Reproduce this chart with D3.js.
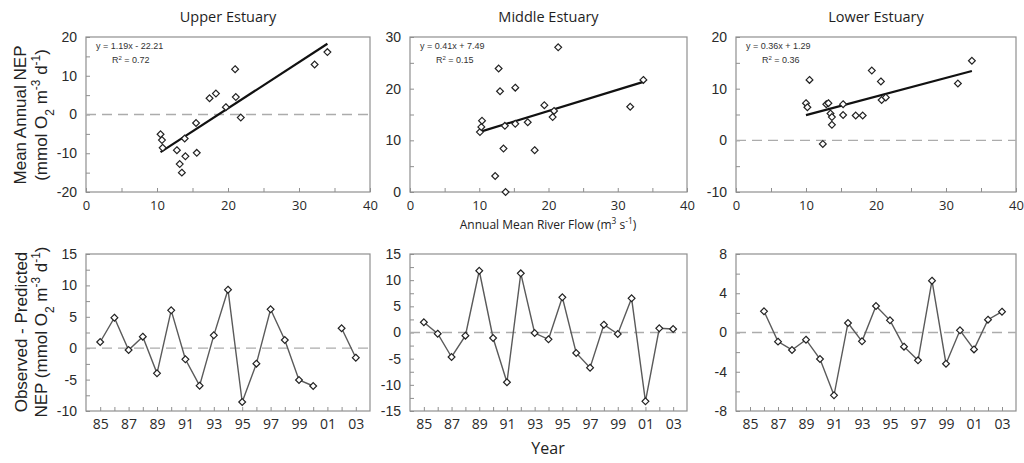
<!DOCTYPE html>
<html>
<head>
<meta charset="utf-8">
<script src="https://cdn.jsdelivr.net/npm/d3@7"></script>
<style>
  body { margin: 0; background: #fff; }
  svg { display: block; }
  .tick text { fill: #2a2a2a; }
</style>
</head>
<body>
<svg id="chart" width="1024" height="463"></svg>
<script>
// Estuary names (panel titles)
const estuaries = ["Upper Estuary", "Middle Estuary", "Lower Estuary"];

// Annual mean river flow (m3 s-1) for each estuary's yearly NEP points
const flowUpper  = [10.5, 10.7, 10.8, 12.8, 13.2, 13.5, 13.9, 14.0, 15.5, 15.6, 17.4, 18.3, 19.7, 21.0, 21.1, 21.8, 32.2, 34.0];
const nepUpper   = [-5.1, -6.6, -8.6, -9.2, -12.8, -15.0, -6.2, -10.8, -2.2, -9.9, 4.2, 5.4, 1.9, 11.7, 4.5, -0.8, 12.9, 16.1];
const flowMiddle = [10.1, 10.3, 10.4, 12.3, 12.8, 13.0, 13.5, 13.7, 13.8, 15.2, 15.2, 17.0, 18.0, 19.4, 20.6, 20.8, 21.4, 31.8, 33.7];
const nepMiddle  = [11.6, 12.6, 13.8, 3.1, 23.9, 19.5, 8.4, 12.8, 0.0, 13.2, 20.2, 13.5, 8.1, 16.8, 14.5, 15.7, 28.0, 16.5, 21.7];
const flowLower  = [10.0, 10.2, 10.5, 12.4, 12.9, 13.2, 13.5, 13.7, 13.7, 15.3, 15.3, 17.1, 18.1, 19.4, 20.7, 20.8, 21.4, 31.7, 33.7];
const nepLower   = [7.2, 6.4, 11.7, -0.7, 7.0, 7.2, 5.2, 4.5, 3.0, 4.9, 7.0, 4.8, 4.8, 13.5, 11.4, 7.8, 8.3, 11.0, 15.4];

// Regression fits: slope, intercept, R2
const slopes     = [1.19, 0.41, 0.36];
const intercepts = [-22.21, 7.49, 1.29];
const r2Values   = [0.72, 0.15, 0.36];

// Residuals (observed - predicted NEP) by year; null = no data
const years       = [85, 86, 87, 88, 89, 90, 91, 92, 93, 94, 95, 96, 97, 98, 99, 100, 101, 102, 103];
const residUpper  = [0.99, 4.86, -0.29, 1.84, -4.0, 6.03, -1.77, -5.97, 2.05, 9.32, -8.57, -2.46, 6.19, 1.3, -5.06, -6.02, null, 3.17, -1.51];
const residMiddle = [1.95, -0.22, -4.68, -0.6, 11.8, -1.05, -9.5, 11.3, -0.1, -1.3, 6.72, -3.92, -6.72, 1.5, -0.29, 6.53, -13.15, 0.8, 0.67];
const residLower  = [null, 2.16, -0.93, -1.78, -0.73, -2.7, -6.4, 0.97, -0.9, 2.7, 1.24, -1.44, -2.84, 5.28, -3.18, 0.22, -1.72, 1.31, 2.12];

// Axis ranges and tick labels
const flowTicks    = [0, 10, 20, 30, 40];
const topYDomains  = [[-20, 20], [0, 30], [-10, 20]];
const topYTicks    = [[-20, -10, 0, 10, 20], [0, 10, 20, 30], [-10, 0, 10, 20]];
const botYDomains  = [[-10, 15], [-15, 15], [-8, 8]];
const botYTicks    = [[-10, -5, 0, 5, 10, 15], [-15, -10, -5, 0, 5, 10, 15], [-8, -4, 0, 4, 8]];
const botYMinor    = [2.5, 2.5, 2];
const yearLabels   = ["85", "87", "89", "91", "93", "95", "97", "99", "01", "03"];

const flows = [flowUpper, flowMiddle, flowLower];
const neps = [nepUpper, nepMiddle, nepLower];
const resids = [residUpper, residMiddle, residLower];

const svg = d3.select("#chart");
const cols = [{x0: 86, x1: 370}, {x0: 410, x1: 687}, {x0: 736, x1: 1016}];
const topRow = {y0: 37, y1: 192};
const botRow = {y0: 254, y1: 411};

const frameColor = "#8f8f8f";
const tickFont = "'Open Sans', sans-serif";
const numFont = "'Liberation Sans', Arial, sans-serif";

const diamond = r => `M0,${-r}L${r},0L0,${r}L${-r},0Z`;

function range(a, b, step) {
  const out = [];
  for (let v = a; v <= b + 1e-9; v += step) out.push(+v.toFixed(4));
  return out;
}

function styleAxis(g, font, size) {
  g.select(".domain").remove();
  g.selectAll(".tick line").attr("stroke", frameColor).attr("stroke-width", 1);
  g.selectAll(".tick text").attr("font-family", font).attr("font-size", size);
}

cols.forEach((c, i) => {
  // ---------- top row: NEP vs river flow ----------
  const x = d3.scaleLinear().domain([0, 40]).range([c.x0, c.x1]);
  const y = d3.scaleLinear().domain(topYDomains[i]).range([topRow.y1, topRow.y0]);
  const g = svg.append("g");

  g.append("rect").attr("x", c.x0).attr("y", topRow.y0)
    .attr("width", c.x1 - c.x0).attr("height", topRow.y1 - topRow.y0)
    .attr("fill", "none").attr("stroke", frameColor).attr("stroke-width", 1.2);

  const [ylo, yhi] = topYDomains[i];
  const yAxis = d3.axisLeft(y).tickValues(range(ylo, yhi, 5)).tickSize(-4).tickPadding(9)
    .tickFormat(v => topYTicks[i].includes(v) ? v : "");
  g.append("g").attr("transform", `translate(${c.x0},0)`).call(yAxis)
    .call(s => styleAxis(s, numFont, 14));

  const xAxis = d3.axisBottom(x).tickValues(range(0, 40, 5)).tickSize(-4).tickPadding(9)
    .tickFormat(v => flowTicks.includes(v) ? v : "");
  g.append("g").attr("transform", `translate(0,${topRow.y1})`).call(xAxis)
    .call(s => styleAxis(s, tickFont, 13));

  if (ylo < 0) {
    g.append("line").attr("x1", c.x0).attr("x2", c.x1)
      .attr("y1", y(0)).attr("y2", y(0))
      .attr("stroke", "#acacac").attr("stroke-width", 1.3).attr("stroke-dasharray", "10,6");
  }

  const fx = flows[i];
  const xmin = d3.min(fx), xmax = d3.max(fx);
  g.append("line")
    .attr("x1", x(xmin)).attr("y1", y(slopes[i] * xmin + intercepts[i]))
    .attr("x2", x(xmax)).attr("y2", y(slopes[i] * xmax + intercepts[i]))
    .attr("stroke", "#111").attr("stroke-width", 2.2);

  g.selectAll("path.pt").data(fx.map((f, k) => [f, neps[i][k]])).enter()
    .append("path").attr("class", "pt")
    .attr("transform", d => `translate(${x(d[0])},${y(d[1])})`)
    .attr("d", diamond(3.4))
    .attr("fill", "#fff").attr("stroke", "#222").attr("stroke-width", 1.2);

  const sign = intercepts[i] < 0 ? "-" : "+";
  const eqText = g.append("text").attr("x", c.x0 + 10).attr("y", topRow.y0 + 12)
    .attr("font-family", numFont).attr("font-size", 9).attr("fill", "#333");
  eqText.text(`y = ${slopes[i].toFixed(2)}x ${sign} ${Math.abs(intercepts[i]).toFixed(2)}`);
  const r2 = g.append("text").attr("x", c.x0 + 26).attr("y", topRow.y0 + 26)
    .attr("font-family", numFont).attr("font-size", 9).attr("fill", "#333");
  r2.append("tspan").text("R");
  r2.append("tspan").attr("baseline-shift", "super").attr("font-size", 6).text("2");
  r2.append("tspan").text(` = ${r2Values[i].toFixed(2)}`);

  svg.append("text").attr("x", (c.x0 + c.x1) / 2).attr("y", 22)
    .attr("text-anchor", "middle").attr("font-family", tickFont).attr("font-size", 14.5)
    .attr("fill", "#1e1e1e").text(estuaries[i]);

  // ---------- bottom row: residuals by year ----------
  const xb = d3.scaleLinear().domain([84, 104]).range([c.x0, c.x1]);
  const yb = d3.scaleLinear().domain(botYDomains[i]).range([botRow.y1, botRow.y0]);
  const gb = svg.append("g");

  gb.append("rect").attr("x", c.x0).attr("y", botRow.y0)
    .attr("width", c.x1 - c.x0).attr("height", botRow.y1 - botRow.y0)
    .attr("fill", "none").attr("stroke", frameColor).attr("stroke-width", 1.2);

  const [blo, bhi] = botYDomains[i];
  const ybAxis = d3.axisLeft(yb).tickValues(range(blo, bhi, botYMinor[i])).tickSize(-4).tickPadding(9)
    .tickFormat(v => botYTicks[i].includes(v) ? v : "");
  gb.append("g").attr("transform", `translate(${c.x0},0)`).call(ybAxis)
    .call(s => styleAxis(s, numFont, 14));

  const xbAxis = d3.axisBottom(xb).tickValues(years).tickSize(-4).tickPadding(8)
    .tickFormat(v => {
      const lab = String(v % 100).padStart(2, "0");
      return yearLabels.includes(lab) ? lab : "";
    });
  gb.append("g").attr("transform", `translate(0,${botRow.y1})`).call(xbAxis)
    .call(s => styleAxis(s, tickFont, 14));

  gb.append("line").attr("x1", c.x0).attr("x2", c.x1)
    .attr("y1", yb(0)).attr("y2", yb(0))
    .attr("stroke", "#acacac").attr("stroke-width", 1.3).attr("stroke-dasharray", "10,6");

  const pts = years.map((yr, k) => [yr, resids[i][k]]);
  const line = d3.line().defined(d => d[1] !== null).x(d => xb(d[0])).y(d => yb(d[1]));
  gb.append("path").datum(pts).attr("d", line)
    .attr("fill", "none").attr("stroke", "#5a5a5a").attr("stroke-width", 1.4);

  gb.selectAll("path.pt").data(pts.filter(d => d[1] !== null)).enter()
    .append("path").attr("class", "pt")
    .attr("transform", d => `translate(${xb(d[0])},${yb(d[1])})`)
    .attr("d", diamond(3.4))
    .attr("fill", "#fff").attr("stroke", "#222").attr("stroke-width", 1.2);
});

// Axis titles
function sub(t, s) { t.append("tspan").attr("baseline-shift", "sub").attr("font-size", "70%").text(s); }
function sup(t, s) { t.append("tspan").attr("baseline-shift", "super").attr("font-size", "70%").text(s); }

function unitsLine(t) {
  t.append("tspan").text("(mmol O");
  sub(t, "2");
  t.append("tspan").text(" m");
  sup(t, "-3");
  t.append("tspan").text(" d");
  sup(t, "-1");
  t.append("tspan").text(")");
}

const yTitleFont = "'Liberation Sans', Arial, sans-serif";
svg.append("text").attr("transform", "translate(26,115) rotate(-90)")
  .attr("text-anchor", "middle").attr("font-family", yTitleFont).attr("font-size", 17)
  .attr("fill", "#222").text("Mean Annual NEP");
unitsLine(svg.append("text").attr("transform", "translate(47,115) rotate(-90)")
  .attr("text-anchor", "middle").attr("font-family", yTitleFont).attr("font-size", 17)
  .attr("fill", "#222"));

svg.append("text").attr("transform", "translate(27,332) rotate(-90)")
  .attr("text-anchor", "middle").attr("font-family", yTitleFont).attr("font-size", 17)
  .attr("fill", "#222").text("Observed - Predicted");
{
  const t = svg.append("text").attr("transform", "translate(47,332) rotate(-90)")
    .attr("text-anchor", "middle").attr("font-family", yTitleFont).attr("font-size", 17)
    .attr("fill", "#222");
  t.append("tspan").text("NEP ");
  unitsLine(t);
}

{
  const t = svg.append("text").attr("x", 548).attr("y", 229)
    .attr("text-anchor", "middle").attr("font-family", tickFont).attr("font-size", 12)
    .attr("fill", "#222");
  t.append("tspan").text("Annual Mean River Flow (m");
  sup(t, "3");
  t.append("tspan").text(" s");
  sup(t, "-1");
  t.append("tspan").text(")");
}

svg.append("text").attr("x", 548).attr("y", 454)
  .attr("text-anchor", "middle").attr("font-family", tickFont).attr("font-size", 16)
  .attr("fill", "#222").text("Year");
</script>
</body>
</html>
